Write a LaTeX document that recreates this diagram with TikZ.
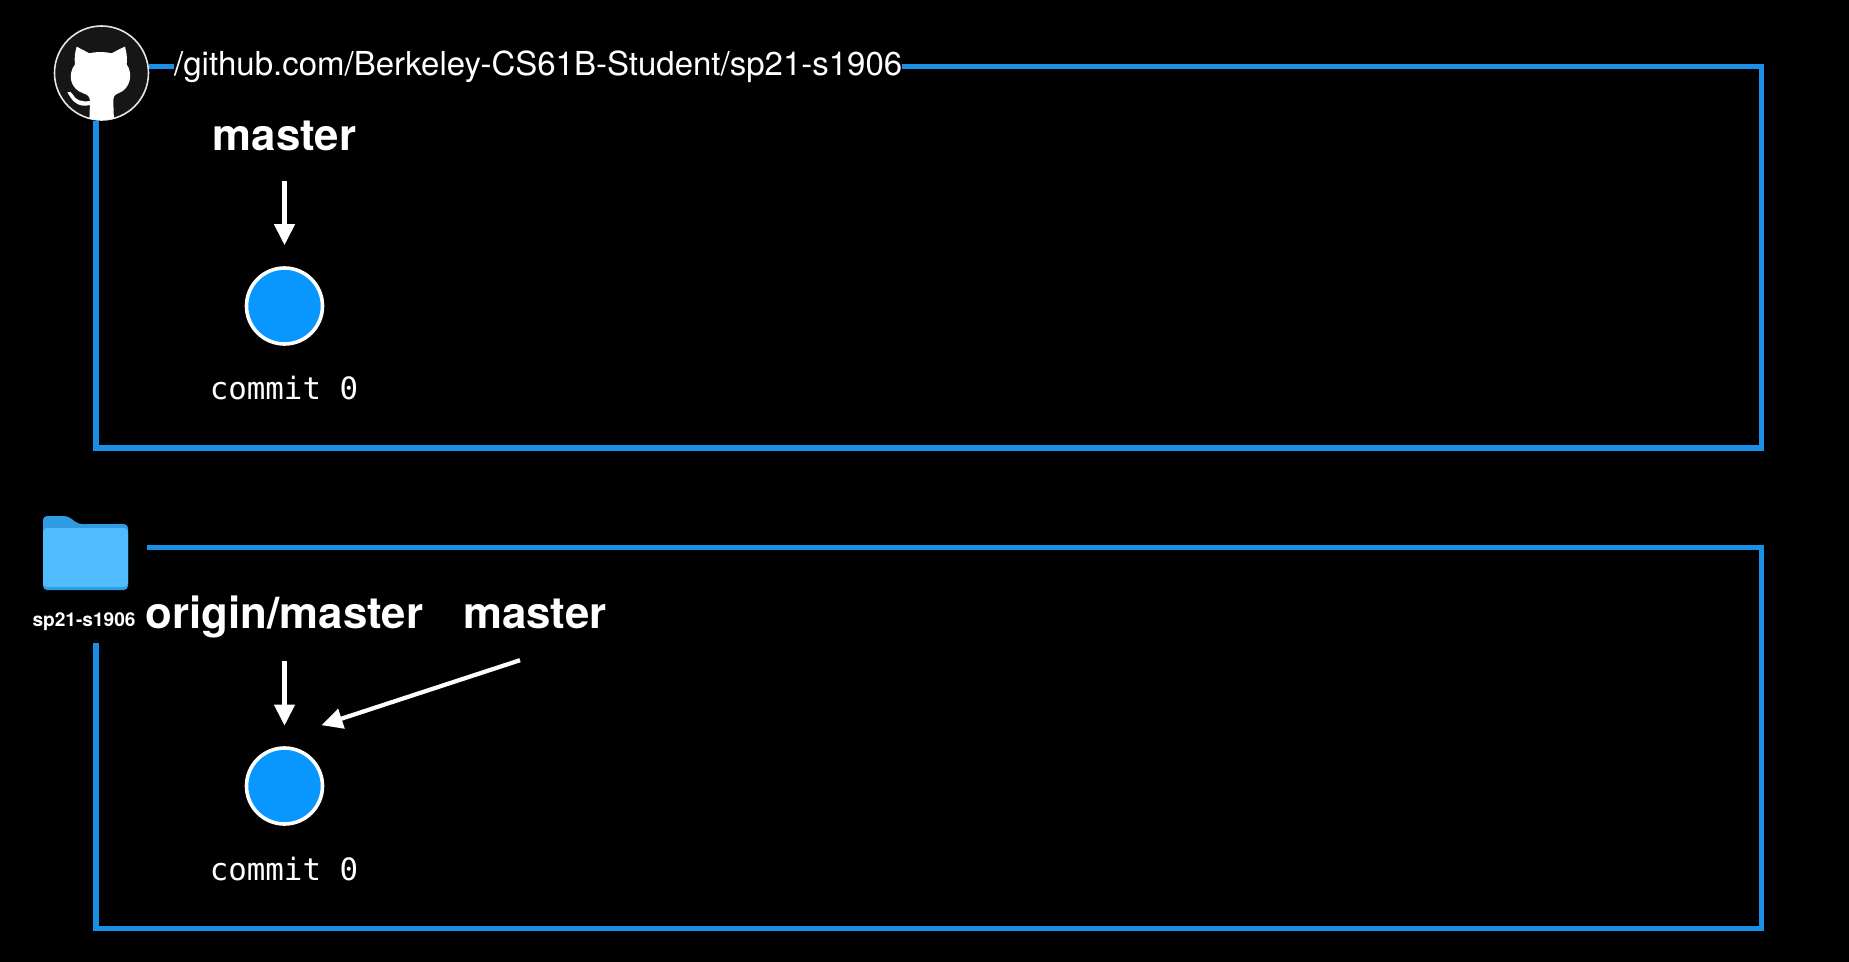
\documentclass[tikz,border=0pt]{standalone}
\usepackage{fontspec}
\setmainfont{TeX Gyre Heros}
\newfontfamily\codefont{DejaVu Sans Mono}
\usetikzlibrary{arrows.meta}
\definecolor{framecol}{HTML}{1A8FE6}
\definecolor{dotcol}{HTML}{0A96FF}
\definecolor{logobg}{HTML}{161616}
\definecolor{folderback}{HTML}{2F9BE2}
\definecolor{folderfront}{HTML}{50BBFF}
\tikzset{
  x=1pt,y=-1pt,
  frame/.style={draw=framecol,line width=5.2pt,line join=miter,line cap=butt},
  ptr/.style={draw=white,line width=4.2pt,-{Triangle[length=21pt,width=20pt]}},
  commitdot/.style={circle,draw=white,line width=3.6pt,fill=dotcol,minimum size=76pt,inner sep=0pt},
  branch/.style={anchor=base,inner sep=0pt,text=white,font=\fontsize{43.8}{44}\selectfont\bfseries,text height=28pt,text depth=0pt},
  commitlabel/.style={anchor=base,inner sep=0pt,text=white,font=\fontsize{30.8}{31}\selectfont\codefont},
}
\begin{document}
\begin{tikzpicture}
\useasboundingbox (0,0) rectangle (1849,961);
\fill[black] (-10,-10) rectangle (1859,971);
% upper repository
\node[circle,draw=white!90!black,line width=1.6pt,fill=logobg,minimum size=94pt,inner sep=0pt] (logo) at (101.5,73) {};
\begin{scope}[shift={(30,15)},x=0.3333pt,y=-0.3333pt]
  \clip (214,174) circle[radius=141];
  \fill[white] (140,95) .. controls (150,100) and (165,108) .. (178,115)
     .. controls (198,110) and (225,110) .. (245,115)
     .. controls (258,108) and (272,100) .. (285,95)
     .. controls (291,115) and (292,135) .. (290,148)
     .. controls (310,175) and (302,222) .. (265,235)
     .. controls (252,240) and (250,245) .. (250,262)
     -- (252,320) -- (178,320) -- (180,262)
     .. controls (180,245) and (175,240) .. (160,235)
     .. controls (120,222) and (112,178) .. (135,148)
     .. controls (133,130) and (134,115) .. (140,95) -- cycle;
  \fill[white] (112,232) .. controls (118,228) and (125,230) .. (128,238)
     .. controls (136,255) and (155,262) .. (180,258)
     -- (180,270) .. controls (150,278) and (130,262) .. (122,248)
     .. controls (119,242) and (116,238) .. (112,232) -- cycle;
\end{scope}
\node[anchor=base west,inner sep=0pt,text=white,font=\fontsize{33}{33}\selectfont] (url) at (174,75) {/github.com/Berkeley-CS61B-Student/sp21-s1906};
\coordinate (utr) at (1761.5,66.5);
\coordinate (ubr) at (1761.5,448);
\coordinate (ubl) at (96,448);
\draw[frame] (logo.east |- utr) -- (url.west |- utr);
\draw[frame] (url.east |- utr) -- (utr) -- (ubr) -- (ubl) -- (ubl |- logo.south);
\node[branch] (m1) at (284.5,150) {master};
\node[commitdot] (c1) at (284.5,306) {};
\node[commitlabel] (l1) at (284,399.5) {commit 0};
\draw[ptr,shorten <=31pt,shorten >=21pt] (m1.south) -- (m1.south |- c1.north);
% lower repository
\fill[folderback,rounded corners=4pt] (43,590) -- (43,516) -- (68,516) -- (78,524) -- (128,524) -- (128,590) -- cycle;
\fill[folderfront,rounded corners=4pt] (43,587) -- (43,528) -- (128,528) -- (128,587) -- cycle;
\node[inner sep=0pt] (folder) at (85.5,551) {};
\node[anchor=base,inner sep=0pt,text=white,font=\fontsize{19.1}{19}\selectfont\bfseries] (fname) at (84,626) {sp21-s1906};
\coordinate (ltl) at (147,547.5);
\coordinate (ltr) at (1761.5,547.5);
\coordinate (lbr) at (1761.5,928.5);
\coordinate (lbl) at (96,928.5);
\coordinate (lstart) at (96,643);
\draw[frame] (ltl) -- (ltr) -- (lbr) -- (lbl) -- (lstart);
\node[branch] (om) at (284.5,628) {origin/master};
\node[branch] (m2) at (535,628) {master};
\node[commitdot] (c2) at (284.5,786) {};
\node[commitlabel] (l2) at (284,880) {commit 0};
\draw[ptr,shorten <=33pt,shorten >=20.5pt] (om.south) -- (om.south |- c2.north);
\draw[ptr] ([shift={(-15,32)}]m2.south) -- ([shift={(37,-21)}]c2.north);
\end{tikzpicture}
\end{document}
